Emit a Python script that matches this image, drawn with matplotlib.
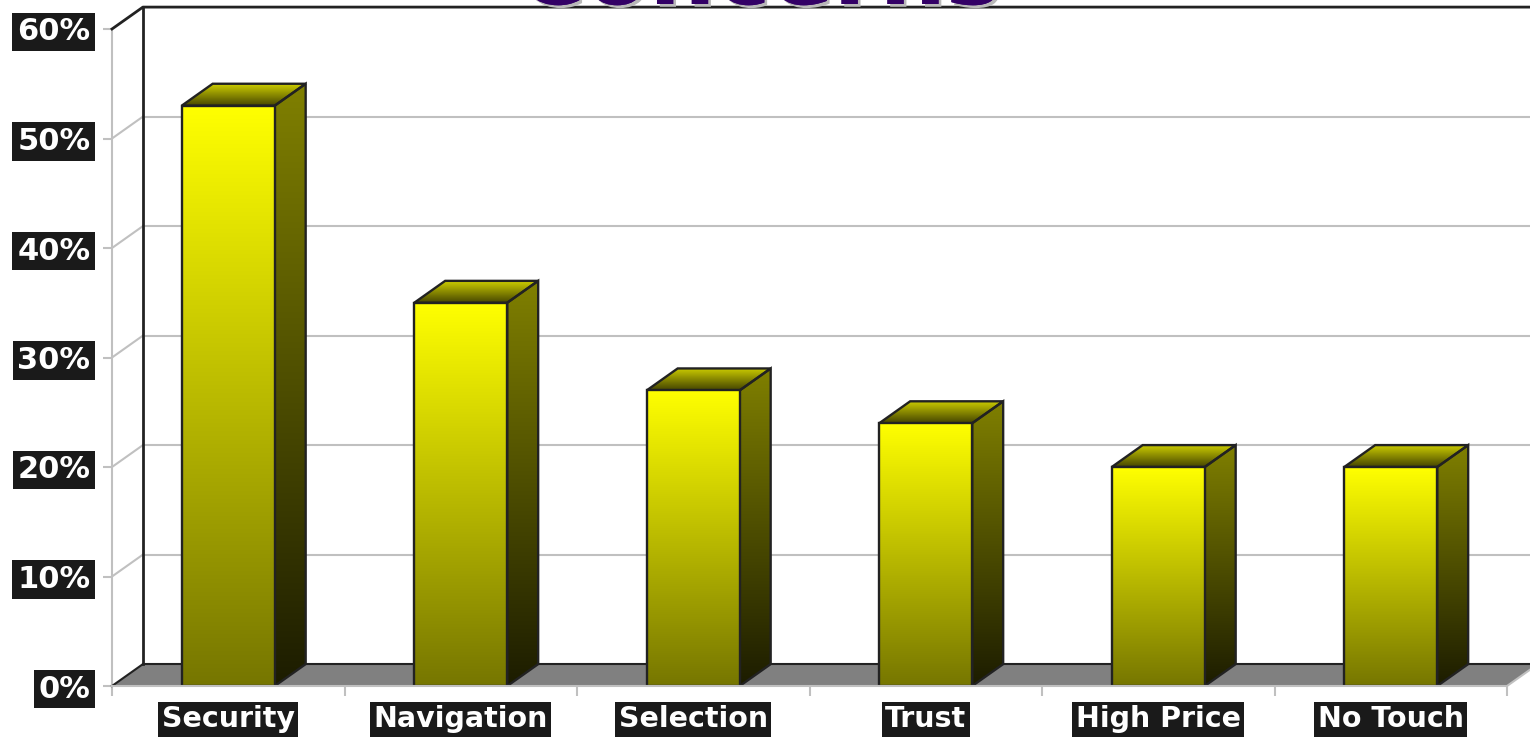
import numpy as np
import matplotlib
matplotlib.use("Agg")
import matplotlib.pyplot as plt
from matplotlib.patches import Polygon
from matplotlib.colors import LinearSegmentedColormap
import matplotlib.patheffects as pe

plt.rcParams["font.family"] = "DejaVu Sans"
plt.rcParams["font.weight"] = "bold"

# data
categories = ["Security", "Navigation", "Selection", "Trust", "High Price", "No Touch"]
values = [53, 35, 27, 24, 20, 20]
y_ticks = [0, 10, 20, 30, 40, 50, 60]
y_labels = ["0%", "10%", "20%", "30%", "40%", "50%", "60%"]
title = "Concerns"

# depth of the 3d look, in data units (categories, percent)
DX = 0.133
DY = 2.0
BAR_W = 0.40
GRID = "#c0c0c0"
EDGE = "#222222"


def grad_poly(ax, verts, c_top, c_bot, z):
    xs = [p[0] for p in verts]
    ys = [p[1] for p in verts]
    cmap = LinearSegmentedColormap.from_list("g", [c_bot, c_top])
    grad = np.linspace(0, 1, 256).reshape(-1, 1)
    im = ax.imshow(grad, cmap=cmap, origin="lower", aspect="auto",
                   extent=(min(xs), max(xs), min(ys), max(ys)),
                   interpolation="bilinear", zorder=z)
    clip = Polygon(verts, closed=True, transform=ax.transData)
    im.set_clip_path(clip)
    ax.add_patch(Polygon(verts, closed=True, facecolor="none", edgecolor=EDGE,
                         lw=1.7, zorder=z + 0.1, joinstyle="miter"))


fig = plt.figure(figsize=(15.3, 7.4), dpi=100)
ax = fig.add_axes([112 / 1530, 54 / 740, 1395 / 1530, 657 / 740])
n = len(categories)

# floor
ax.add_patch(Polygon([(0, 0), (n, 0), (n + DX, DY), (DX, DY)], closed=True,
                     facecolor="#808080", edgecolor="none", zorder=1, clip_on=False))
ax.plot([0, DX], [0, DY], color=EDGE, lw=1.5, zorder=2, clip_on=False)
ax.plot([DX, n + DX + 0.2], [DY, DY], color=EDGE, lw=1.5, zorder=2, clip_on=False)
ax.plot([n, n + DX], [0, DY], color=GRID, lw=1.5, zorder=2, clip_on=False)

# back wall grid + side wall diagonals
for v in y_ticks[1:-1]:
    ax.plot([DX, n + DX + 0.2], [v + DY, v + DY], color=GRID, lw=1.5, zorder=1, clip_on=False)
    ax.plot([0, DX], [v, v + DY], color=GRID, lw=1.5, zorder=1, clip_on=False)
top = y_ticks[-1]
ax.plot([0, DX, n + DX + 0.2], [top, top + DY, top + DY], color=EDGE, lw=2, zorder=2, clip_on=False)
ax.plot([DX, DX], [DY, top + DY], color=EDGE, lw=2, zorder=2, clip_on=False)

# bars
for i, v in enumerate(values):
    x0 = i + 0.5 - BAR_W / 2
    x1 = i + 0.5 + BAR_W / 2
    front = [(x0, 0), (x1, 0), (x1, v), (x0, v)]
    side = [(x1, 0), (x1 + DX, DY), (x1 + DX, v + DY), (x1, v)]
    topf = [(x0, v), (x1, v), (x1 + DX, v + DY), (x0 + DX, v + DY)]
    grad_poly(ax, side, "#808000", "#1c1c00", 3)
    grad_poly(ax, topf, "#cccc00", "#454500", 3)
    grad_poly(ax, front, "#ffff00", "#767600", 4)
    # thin yellow highlight on the left edge of the front face
    ax.plot([x0, x0], [0, v], color="#e8e800", lw=1, zorder=3.9)

ax.set_xlim(0, n)
ax.set_ylim(0, top)

# axes, ticks and labels
for s in ["top", "right"]:
    ax.spines[s].set_visible(False)
ax.spines["left"].set_color(GRID)
ax.spines["bottom"].set_color(GRID)
ax.spines["left"].set_linewidth(1.5)
ax.spines["bottom"].set_linewidth(1.5)
ax.spines["left"].set_zorder(0.5)
ax.spines["bottom"].set_zorder(5)
ax.patch.set_alpha(0)

ybox = dict(boxstyle="square,pad=0.16", facecolor="#1a1a1a", edgecolor="none")
xbox = dict(boxstyle="square,pad=0.12", facecolor="#1a1a1a", edgecolor="none")
ax.set_yticks(y_ticks)
ax.set_yticklabels(y_labels)
ax.tick_params(axis="y", length=6.5, width=1.5, color=GRID, pad=9,
               labelsize=22, labelcolor="white")
for lbl in ax.get_yticklabels():
    lbl.set_bbox(ybox)

ax.set_xticks(range(n + 1))
ax.set_xticklabels([])
ax.set_xticks([i + 0.5 for i in range(n)], minor=True)
ax.set_xticklabels(categories, minor=True)
ax.tick_params(axis="x", which="major", length=7, width=1.5, color=GRID)
ax.tick_params(axis="x", which="minor", length=0, pad=14, labelsize=20.5, labelcolor="white")
for lbl in ax.get_xticklabels(minor=True):
    lbl.set_bbox(xbox)

fig.text(0.496, 1 - 4 / 740, title, ha="center", va="baseline", fontsize=67,
         color="#330066", fontweight="bold",
         path_effects=[pe.withSimplePatchShadow(offset=(2, -2), shadow_rgbFace="#b8b8b8", alpha=1),
                       pe.Normal()])

fig.savefig("out.png", dpi=100, facecolor="white")
